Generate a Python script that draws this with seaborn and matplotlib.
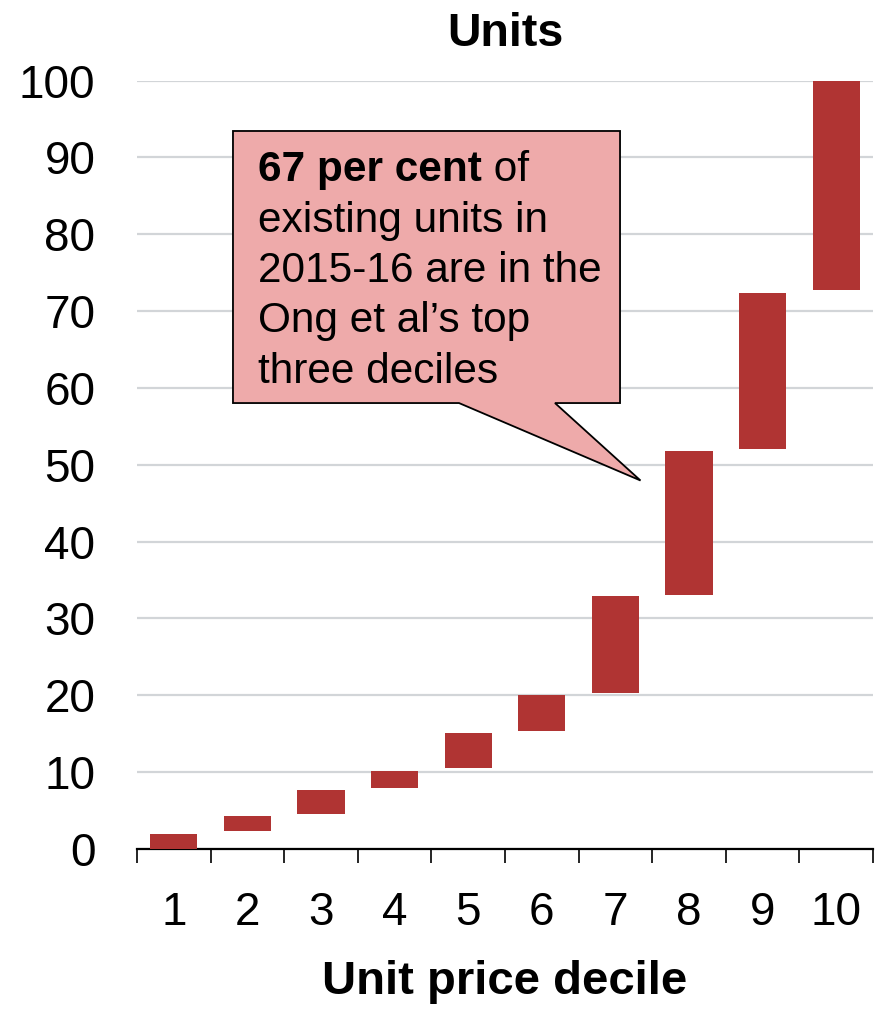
import matplotlib
matplotlib.use("Agg")
import matplotlib.pyplot as plt
from matplotlib.patches import Polygon
from matplotlib.ticker import FixedLocator
import seaborn as sns
import pandas as pd

# Floating bars: each decile spans from its lower to its upper cumulative share
deciles = ["1", "2", "3", "4", "5", "6", "7", "8", "9", "10"]
lower = [0.0, 2.3, 4.5, 8.0, 10.5, 15.4, 20.3, 33.1, 52.1, 72.8]
upper = [2.0, 4.3, 7.7, 10.2, 15.1, 20.0, 32.9, 51.8, 72.4, 100.0]
y_ticks = [0, 10, 20, 30, 40, 50, 60, 70, 80, 90, 100]

callout_bold = "67 per cent"
callout_lines = ["existing units in", "2015-16 are in the",
                 "Ong et al\u2019s top", "three deciles"]

BAR = "#B03433"
PINK = "#EEAAAA"
GRID = "#D2D5D8"

sns.set_theme(style="white")
plt.rcParams["font.family"] = ["Liberation Sans", "DejaVu Sans"]
plt.rcParams["text.color"] = "black"
plt.rcParams["axes.labelcolor"] = "black"
plt.rcParams["xtick.color"] = "black"
plt.rcParams["ytick.color"] = "black"

df = pd.DataFrame({"decile": deciles,
                   "span": [u - l for l, u in zip(lower, upper)]})

fig = plt.figure(figsize=(8.82, 10.09), dpi=100)
ax = fig.add_axes([137 / 882, 1 - 849 / 1009, 736 / 882, (849 - 80.5) / 1009])

sns.barplot(data=df, x="decile", y="span", order=deciles, color=BAR,
            saturation=1, width=0.64, ax=ax, zorder=3)
for patch, lo in zip(ax.patches, lower):
    patch.set_y(lo)
    patch.set_linewidth(0)
    patch.set_clip_on(False)

ax.set_xlim(-0.5, len(deciles) - 0.5)
ax.set_ylim(0, 100)
ax.set_yticks(y_ticks)
ax.yaxis.grid(True, color=GRID, linewidth=1.6, zorder=0)
ax.set_axisbelow(True)

for side in ["left", "right", "top"]:
    ax.spines[side].set_visible(False)
ax.spines["bottom"].set_color("black")
ax.spines["bottom"].set_linewidth(1.6)

# Tick marks sit between categories
ax.xaxis.set_minor_locator(FixedLocator([i - 0.5 for i in range(len(deciles) + 1)]))
ax.tick_params(axis="x", which="minor", length=10, width=1.2, color="black",
               direction="out", bottom=True)
ax.tick_params(axis="x", which="major", length=0, pad=30, labelsize=33,
               labelcolor="black")
ax.tick_params(axis="y", length=0, pad=30, labelsize=33, labelcolor="black")

ax.set_xlabel("Unit price decile", fontsize=34, fontweight="bold", labelpad=18,
              color="black")
ax.set_ylabel("")
ax.set_title("Units", fontsize=33.5, fontweight="bold", pad=25, color="black")

# Speech-bubble callout
bubble = [(0.804, 93.43), (6.063, 93.43), (6.063, 58.03), (5.179, 58.03),
          (6.341, 47.95), (3.875, 58.03), (0.804, 58.03)]
ax.add_patch(Polygon(bubble, closed=True, facecolor=PINK, edgecolor="black",
                     linewidth=1.3, zorder=5, clip_on=False))

tx, ty0, step = 1.144, 86.92, 6.57
t_bold = ax.text(tx, ty0, callout_bold, fontsize=30.5, fontweight="bold",
                 va="baseline", ha="left", zorder=6, color="black")
fig.canvas.draw()
bb = t_bold.get_window_extent(renderer=fig.canvas.get_renderer())
x_end = ax.transData.inverted().transform((bb.x1, 0))[0]
ax.text(x_end, ty0, " of", fontsize=30.5, va="baseline", ha="left", zorder=6,
        color="black")
for i, line in enumerate(callout_lines, start=1):
    ax.text(tx, ty0 - i * step, line, fontsize=30.5, va="baseline", ha="left",
            zorder=6, color="black")

fig.savefig("out.png", dpi=100)
